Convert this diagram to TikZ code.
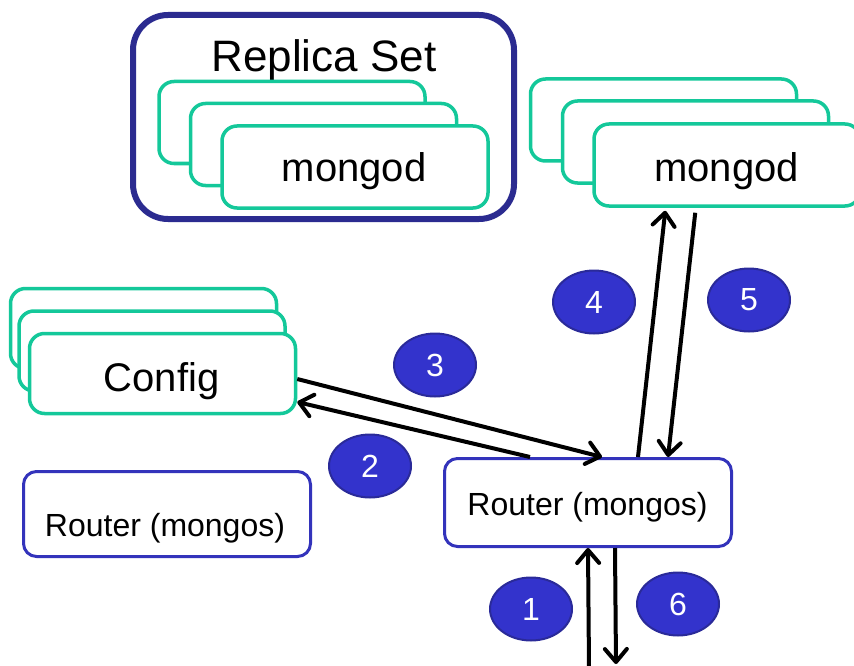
\documentclass[tikz,border=0pt]{standalone}
\usepackage{fontspec}
\setmainfont{Liberation Sans}
\usetikzlibrary{arrows.meta,shapes.geometric,calc}
\definecolor{rsnavy}{HTML}{2B2B90}
\definecolor{rtblue}{HTML}{3333BB}
\definecolor{ellfill}{HTML}{3333CC}
\definecolor{elldraw}{HTML}{2A2A99}
\definecolor{mgreen}{HTML}{14C89A}
\tikzset{
  gbox/.style={draw=mgreen,line width=3.5pt,fill=white,rounded corners=15pt,minimum width=266pt,minimum height=82pt,inner sep=0pt},
  rbox/.style={draw=rtblue,line width=3pt,fill=white,rounded corners=13pt,minimum width=287pt,inner sep=0pt},
  num/.style={ellipse,draw=elldraw,line width=2pt,fill=ellfill,minimum width=82pt,minimum height=63pt,inner sep=0pt,text=white,font=\fontsize{32}{32}\selectfont},
  lbl/.style={anchor=base,inner sep=0pt},
  flow/.style={line width=4pt,-{Straight Barb[length=13pt,width=22pt,round]}}
}
\begin{document}
\begin{tikzpicture}[x=1pt,y=-1pt]
\useasboundingbox (0,0) rectangle (854,666);
% replica set
\node[draw=rsnavy,line width=6pt,rounded corners=35pt,minimum width=381pt,minimum height=204pt,inner sep=0pt] (rs) at (323.5,117) {};
\node[lbl,font=\fontsize{44}{44}\selectfont] (rstext) at (324,72) {Replica Set};
\node[gbox] (rs1) at (292,122.5) {};
\node[gbox] (rs2) at (323.5,144.5) {};
\node[gbox] (rs3) at (355,167) {};
\node[lbl,font=\fontsize{40}{40}\selectfont] (rstxt3) at (354,182) {mongod};
% right mongod stack
\node[gbox] (md1) at (663.5,120) {};
\node[gbox] (md2) at (695.5,142) {};
\node[gbox] (md3) at (727,165) {};
\node[lbl,font=\fontsize{40}{40}\selectfont] (mdtxt) at (726.5,182) {mongod};
% config stack
\node[gbox,minimum height=80pt] (cf1) at (143.5,328.5) {};
\node[gbox,minimum height=80pt] (cf2) at (152,351) {};
\node[gbox,minimum height=80pt] (cf3) at (162.5,373.5) {};
\node[lbl,font=\fontsize{40}{40}\selectfont] (cftxt) at (161.5,391) {Config};
% routers
\node[rbox,minimum height=85pt] (rl) at (167,514) {};
\node[lbl,font=\fontsize{32}{32}\selectfont] (rltxt) at (165,536) {Router (mongos)};
\node[rbox,minimum height=88pt] (rr) at (588,502.5) {};
\node[lbl,font=\fontsize{32}{32}\selectfont] (rrtxt) at (587.5,515) {Router (mongos)};
% numbers
\node[num] (n1) at (531,609) {1};
\node[num] (n2) at (370,466) {2};
\node[num] (n3) at (435,365) {3};
\node[num] (n4) at (594,302) {4};
\node[num] (n5) at (749,300) {5};
\node[num] (n6) at (678,604) {6};
% free ends
\coordinate (cin) at (589,668);
\coordinate (cout) at (616,664);
% arrows
\draw[flow] (cin) -- ([xshift=145pt]rr.south west);
\draw[flow] ([xshift=87pt]rr.north west) -- ([yshift=-28.5pt]cf3.east);
\draw[flow] ([yshift=-5.5pt]cf3.east) -- ([xshift=159pt]rr.north west);
\draw[flow] ([xshift=195pt]rr.north west) -- ([xshift=73pt,yshift=-3pt]md3.south west);
\draw[flow] ([xshift=103pt,yshift=-5pt]md3.south west) -- ([xshift=225pt]rr.north west);
\draw[flow] ([xshift=172pt]rr.south west) -- (cout);
\end{tikzpicture}
\end{document}
